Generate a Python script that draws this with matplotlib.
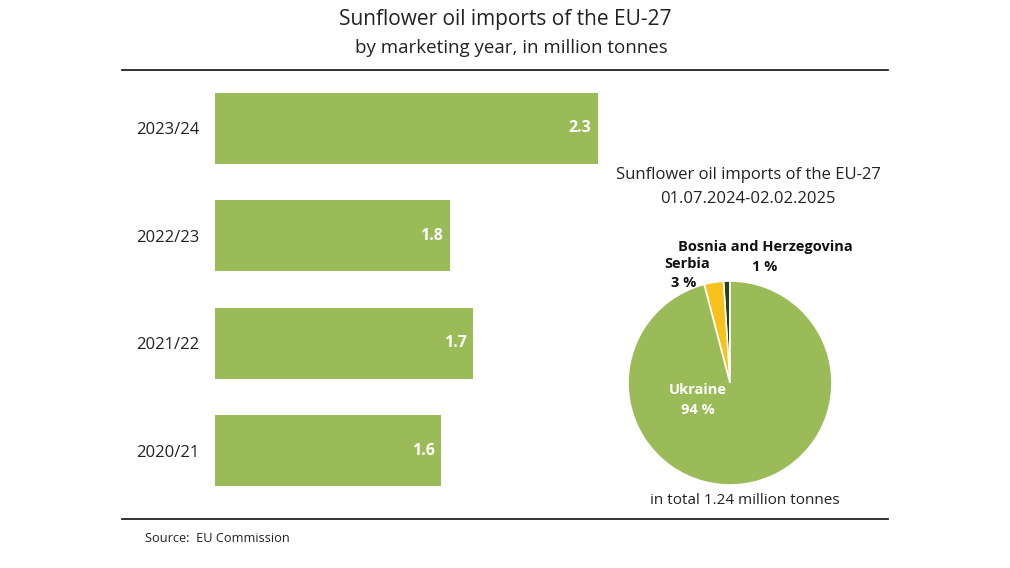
import matplotlib.pyplot as plt

plt.rcParams['font.family'] = ['Open Sans', 'DejaVu Sans']

# bar chart data (bar lengths as drawn, labels as printed)
years = ["2023/24", "2022/23", "2021/22", "2020/21"]
bar_values = [2.30, 1.41, 1.55, 1.36]
bar_labels = ["2.3", "1.8", "1.7", "1.6"]

# pie data
countries = ["Bosnia and Herzegovina", "Serbia", "Ukraine"]
shares = [1, 3, 94]
share_labels = ["1 %", "3 %", "94 %"]

GREEN = "#9bbb59"
YELLOW = "#f9c11c"
DARK = "#2b3f1c"

W, H = 1010, 568
fig = plt.figure(figsize=(W / 100, H / 100), dpi=100)


def box(x0, y0, x1, y1):
    # pixel box -> figure fraction
    return [x0 / W, 1 - y1 / H, (x1 - x0) / W, (y1 - y0) / H]


# titles and rules
fig.text(505 / W, 1 - 20 / H, "Sunflower oil imports of the EU-27",
         ha="center", va="center", fontsize=15, color="#222222")
fig.text(511 / W, 1 - 48 / H, "by marketing year, in million tonnes",
         ha="center", va="center", fontsize=13.5, color="#222222")
fig.add_artist(plt.Line2D([122 / W, 888 / W], [1 - 70 / H] * 2, color="#222222", lw=1.3))
fig.add_artist(plt.Line2D([122 / W, 888 / W], [1 - 519 / H] * 2, color="#222222", lw=1.3))
fig.text(145 / W, 1 - 538 / H, "Source:  EU Commission",
         ha="left", va="center", fontsize=9.2, color="#222222")

# bar chart
ax = fig.add_axes(box(215, 74.5, 600, 504.5))
ypos = list(range(len(years)))
ax.barh(ypos, bar_values, height=0.66, color=GREEN)
ax.set_xlim(0, 385 / 166.5)
ax.set_ylim(len(years) - 0.5, -0.5)
for y, v, lab in zip(ypos, bar_values, bar_labels):
    ax.text(v - 0.04, y, lab, ha="right", va="center", color="white",
            fontsize=11.5, fontweight="bold")
ax.set_yticks(ypos)
ax.set_yticklabels(years, fontsize=12, color="#222222")
ax.tick_params(axis="y", length=0, pad=11)
ax.set_xticks([])
for s in ax.spines.values():
    s.set_visible(False)

# pie chart
fig.text(748 / W, 1 - 175 / H, "Sunflower oil imports of the EU-27",
         ha="center", va="center", fontsize=12, color="#222222")
fig.text(748 / W, 1 - 199 / H, "01.07.2024-02.02.2025",
         ha="center", va="center", fontsize=12, color="#222222")
fig.text(745 / W, 1 - 500 / H, "in total 1.24 million tonnes",
         ha="center", va="center", fontsize=11, color="#222222")

pax = fig.add_axes(box(628, 281, 832, 485))
pax.pie(shares, colors=[DARK, YELLOW, GREEN], startangle=90, counterclock=True,
        radius=1, wedgeprops=dict(edgecolor="white", linewidth=1.2))
pax.set_xlim(-1, 1)
pax.set_ylim(-1, 1)
pax.set_aspect("equal")
pax.set_axis_off()

# labels, positioned in pie data units (radius 102 px)
r = 102.0
pax.text((698 - 730) / r, (383 - 400) / r, f"{countries[2]}\n{share_labels[2]}",
         ha="center", va="center", color="white", fontsize=10.5,
         fontweight="bold", linespacing=1.5)
pax.text((687 - 730) / r, (383 - 264) / r, countries[1], ha="center", va="center",
         color="#111111", fontsize=10.5, fontweight="bold", clip_on=False)
pax.text((684 - 730) / r, (383 - 283) / r, share_labels[1], ha="center", va="center",
         color="#111111", fontsize=10.5, fontweight="bold", clip_on=False)
pax.text((765 - 730) / r, (383 - 247) / r, countries[0], ha="center", va="center",
         color="#111111", fontsize=10.5, fontweight="bold", clip_on=False)
pax.text((765 - 730) / r, (383 - 267) / r, share_labels[0], ha="center", va="center",
         color="#111111", fontsize=10.5, fontweight="bold", clip_on=False)

fig.savefig("out.png", dpi=100)
